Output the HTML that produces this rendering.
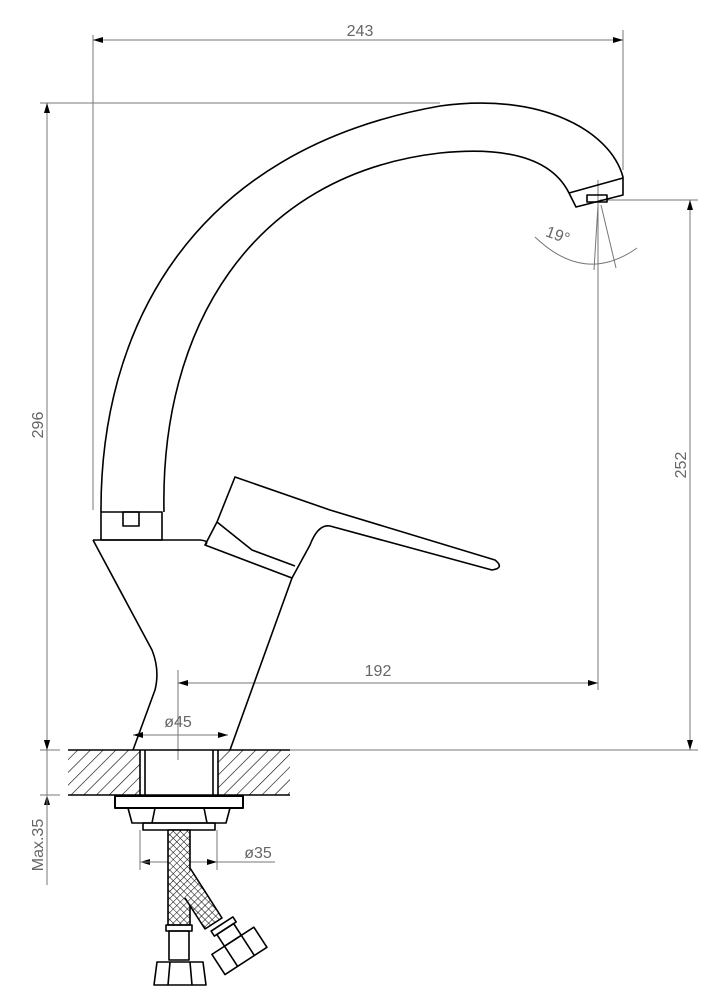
<!DOCTYPE html>
<html><head><meta charset="utf-8"><style>html,body{margin:0;padding:0;background:#fff}svg{display:block}</style></head>
<body>
<svg width="723" height="1000" viewBox="0 0 723 1000" xmlns="http://www.w3.org/2000/svg" font-family="Liberation Sans, sans-serif">
<defs>
<pattern id="h" width="9" height="9" patternUnits="userSpaceOnUse" patternTransform="rotate(45)">
<line x1="0" y1="0" x2="0" y2="9" stroke="#000" stroke-width="1.2"/></pattern>
<pattern id="x" width="5" height="5" patternUnits="userSpaceOnUse" patternTransform="rotate(45)">
<rect width="5" height="5" fill="#fff"/><path d="M0 0V5M0 0H5" stroke="#000" stroke-width="1"/></pattern>
<marker id="a" viewBox="0 0 10 6" refX="10" refY="3" markerWidth="10" markerHeight="6" orient="auto-start-reverse" markerUnits="userSpaceOnUse"><path d="M0 0L10 3L0 6z" fill="#000"/></marker>
</defs>
<g stroke="#777" stroke-width="1" fill="none">
<line x1="93" y1="35" x2="93" y2="510"/><line x1="623" y1="30" x2="623" y2="170"/>
<line x1="93" y1="40" x2="623" y2="40" marker-start="url(#a)" marker-end="url(#a)"/>
<line x1="40" y1="103" x2="440" y2="103"/>
<line x1="47" y1="103" x2="47" y2="750" marker-start="url(#a)" marker-end="url(#a)"/>
<line x1="600" y1="200" x2="698" y2="200"/><line x1="290" y1="750" x2="698" y2="750"/>
<line x1="690" y1="200" x2="690" y2="750" marker-start="url(#a)" marker-end="url(#a)"/>
<line x1="598" y1="180" x2="598" y2="690"/>
<line x1="178" y1="670" x2="178" y2="745"/>
<line x1="178" y1="683" x2="598" y2="683" marker-start="url(#a)" marker-end="url(#a)"/>
<line x1="133" y1="735" x2="228" y2="735" marker-start="url(#a)" marker-end="url(#a)"/>
<line x1="178" y1="740" x2="178" y2="760"/>
<line x1="140" y1="830" x2="140" y2="870"/><line x1="217" y1="830" x2="217" y2="870"/>
<line x1="140" y1="862" x2="275" y2="862" marker-start="url(#a)"/>
<line x1="217" y1="862" x2="140" y2="862" marker-start="url(#a)"/>
<line x1="40" y1="750" x2="60" y2="750"/><line x1="40" y1="795" x2="60" y2="795"/>
<line x1="47" y1="735" x2="47" y2="750" marker-end="url(#a)"/>
<line x1="47" y1="810" x2="47" y2="795" marker-end="url(#a)"/>
<line x1="47" y1="750" x2="47" y2="885"/>
<line x1="598" y1="205" x2="594" y2="270"/><line x1="601" y1="205" x2="616" y2="268"/>
<path d="M535 237 Q585 285 637 248"/>
</g>
<g fill="#666" font-size="16">
<text x="360" y="36" text-anchor="middle">243</text>
<text x="378" y="676" text-anchor="middle">192</text>
<text x="178" y="727" text-anchor="middle">ø45</text>
<text x="258" y="858" text-anchor="middle">ø35</text>
<text transform="translate(43,425) rotate(-90)" text-anchor="middle">296</text>
<text transform="translate(686,465) rotate(-90)" text-anchor="middle">252</text>
<text transform="translate(43,845) rotate(-90)" text-anchor="middle">Max.35</text>
<text transform="translate(556,240) rotate(20)" text-anchor="middle">19°</text>
</g>
<g stroke="#000" stroke-width="1.6" fill="none" stroke-linejoin="round">
<path d="M101 512 C100 330 190 150 440 106 C540 92 610 130 623 177 L623 195 L576 207 L569 193 C555 165 520 145 440 153 C250 175 160 330 164 512"/>
<line x1="569" y1="193" x2="623" y2="178"/>
<rect x="587" y="195" width="20" height="7"/>
<rect x="101" y="512" width="61" height="28"/><rect x="123" y="512" width="16" height="14"/>
<path d="M93 540 L200 540 Q210 541 205 545 L292 578 L230 750 M93 540 L152 650 Q160 670 155 690 L133 750"/>
<path d="M217 522 L235 477 L330 510 L495 560 Q505 568 492 570 L330 526 Q318 524 310 545 L292 578"/>
<path d="M217 522 L205 545 M217 522 L252 550 L295 566"/>
<rect x="68" y="750" width="72" height="45" fill="url(#h)" stroke="none"/>
<rect x="218" y="750" width="72" height="45" fill="url(#h)" stroke="none"/>
<line x1="68" y1="750" x2="290" y2="750"/><line x1="68" y1="795" x2="290" y2="795"/>
<line x1="140" y1="750" x2="140" y2="795"/><line x1="145" y1="750" x2="145" y2="795"/>
<line x1="213" y1="750" x2="213" y2="795"/><line x1="218" y1="750" x2="218" y2="795"/>
<rect x="115" y="796" width="128" height="12" stroke-width="2"/>
<path d="M128 808 L230 808 L226 823 L132 823 Z M155 808 L152 823 M204 808 L207 823"/>
<rect x="143" y="823" width="72" height="7"/>
<rect x="168" y="830" width="22" height="95" fill="url(#x)"/>
<path d="M190 868 L222 918 L205 929 L185 898" fill="url(#x)"/>
<rect x="166" y="925" width="26" height="6"/><rect x="169" y="931" width="20" height="29"/>
<path d="M157 962 L203 962 L206 985 L154 985 Z M170 962 L168 985 M190 962 L192 985"/>
<g transform="translate(222,924) rotate(-33)"><rect x="-13" y="0" width="26" height="6"/><rect x="-10" y="6" width="20" height="14"/>
<path d="M-25 20 L25 20 L25 44 L-25 44 Z M-10 20 L-10 44 M10 20 L10 44"/></g>
</g>
</svg>
</body></html>
